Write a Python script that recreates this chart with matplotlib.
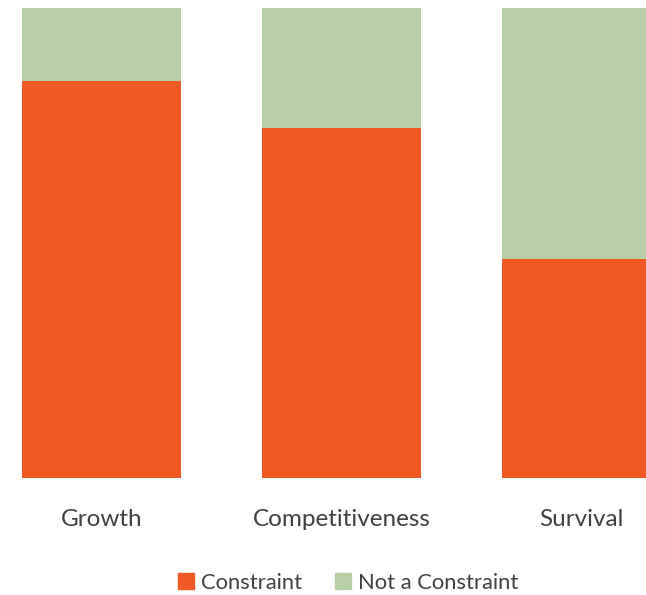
import matplotlib.pyplot as plt
from matplotlib.patches import Patch

plt.rcParams['font.family'] = ['Lato', 'DejaVu Sans']

# Share of firms (%) reporting each item as a constraint
categories = ['Growth', 'Competitiveness', 'Survival']
constraint = [84.5, 74.5, 46.6]
not_constraint = [100 - v for v in constraint]

orange = '#F15A24'
green = '#B7CFA5'

fig = plt.figure(figsize=(6.46, 5.95), dpi=100)
ax = fig.add_axes([0, 1 - 478 / 595, 1, 470 / 595])

x = range(len(categories))
ax.bar(x, constraint, width=0.6625, color=orange, label='Constraint')
ax.bar(x, not_constraint, bottom=constraint, width=0.6625, color=green,
       label='Not a Constraint')

ax.set_xlim(-101.5 / 240, (646 - 101.5) / 240)
ax.set_ylim(0, 100)
for s in ax.spines.values():
    s.set_visible(False)
ax.set_yticks([])
ax.set_xticks(list(x))
ax.set_xticklabels(categories, fontsize=17.5, color='#404040')
ax.tick_params(axis='x', length=0, pad=22)

handles = [Patch(color=orange), Patch(color=green)]
fig.legend(handles, ['Constraint', 'Not a Constraint'], loc='center',
           bbox_to_anchor=(348 / 646, 1 - 583 / 595), ncol=2, frameon=False,
           fontsize=15.8, labelcolor='#404040', handlelength=0.75, handleheight=0.75,
           handletextpad=0.3, columnspacing=1.5)

fig.savefig('out.png', dpi=100)
